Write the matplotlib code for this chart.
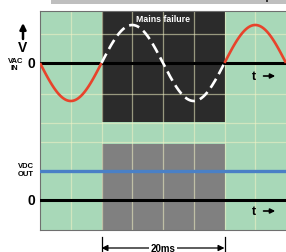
"""
UPS hold-up diagram: AC input with a 20 ms mains failure, DC output unaffected.
"""
import numpy as np
import matplotlib
matplotlib.use("Agg")
import matplotlib.pyplot as plt
import matplotlib.transforms as mtransforms
from matplotlib.patches import FancyArrowPatch, Rectangle

plt.rcParams["font.family"] = ["Liberation Sans", "DejaVu Sans"]

W_PX, H_PX = 286, 253

# x axis in ms, y axis in px above bottom of the plot box
T_END = 40.0
Y_TOP = 219
AC_ZERO = 167
AC_PEAK = 38
AC_FREQ_HZ = 50
DC_ZERO = 30
DC_LEVEL = 59

FAIL_START, FAIL_END = 10, 30           # mains failure window, ms
GRID_X = [5, 10, 15, 20, 25, 30, 35]
GRID_Y = [196, 136, 107, 88, 59]
DARK_BOTTOM = 108
GRAY_TOP = 86

GREEN = "#a8d8b8"
GRID = "#f3f3c6"
DARK = "#2b2b2b"
GREY = "#808080"
RED = "#e8432b"
BLUE = "#4a80c6"


def ac(t_ms):
    return AC_ZERO - AC_PEAK * np.sin(2 * np.pi * AC_FREQ_HZ * t_ms / 1000)


fig = plt.figure(figsize=(W_PX / 100, H_PX / 100), dpi=100)
fig.patch.set_facecolor("white")
ax = fig.add_axes([40 / W_PX, 22 / H_PX, 246 / W_PX, 219 / H_PX])
ax.set_xlim(0, T_END)
ax.set_ylim(0, Y_TOP)
ax.set_facecolor(GREEN)
ax.set_xticks([])
ax.set_yticks([])
for s in ["left", "bottom", "top"]:
    ax.spines[s].set_color("#6f6f6f")
    ax.spines[s].set_linewidth(0.8)
ax.spines["right"].set_visible(False)

# failure blocks
ax.axvspan(FAIL_START, FAIL_END, ymin=DARK_BOTTOM / Y_TOP, ymax=1, color=DARK, lw=0, zorder=1)
ax.axvspan(FAIL_START, FAIL_END, ymin=0, ymax=GRAY_TOP / Y_TOP, color=GREY, lw=0, zorder=1)

# grid
for gx in GRID_X:
    ax.axvline(gx, color=GRID, lw=0.9, alpha=0.55, zorder=2)
for gy in GRID_Y:
    ax.axhline(gy, color=GRID, lw=0.9, alpha=0.55, zorder=2)

# zero lines and DC output
ax.axhline(AC_ZERO, color="black", lw=2.2, zorder=3)
ax.axhline(DC_ZERO, color="black", lw=2.2, zorder=3)
ax.axhline(DC_LEVEL, color=BLUE, lw=2.4, zorder=3)

# AC waveform
t1 = np.linspace(0, FAIL_START, 100)
t2 = np.linspace(FAIL_START, FAIL_END, 200)
t3 = np.linspace(FAIL_END, T_END, 100)
ax.plot(t1, ac(t1), color=RED, lw=1.9, zorder=4, solid_capstyle="butt")
ax.plot(t3, ac(t3), color=RED, lw=1.9, zorder=4, solid_capstyle="butt")
ax.plot(t2, ac(t2), color="white", lw=1.9, ls=(0, (4, 2)), zorder=4)

ax.text((FAIL_START + FAIL_END) / 2, Y_TOP - 8, "Mains failure", color="white",
        fontsize=6.3, fontweight="bold", ha="center", va="center", zorder=5)

# t arrows
for ty in (AC_ZERO - 13, DC_ZERO - 11):
    ax.text(34.8, ty, "t", fontsize=9, fontweight="bold", ha="center", va="center", zorder=5)
    ax.annotate("", xy=(38.7, ty), xytext=(35.9, ty),
                arrowprops=dict(arrowstyle="-|>", color="black", lw=1.2,
                                mutation_scale=7), zorder=5)


def fx(px):
    return px / W_PX


def fy(py):
    return 1 - py / H_PX


# left labels
fig.text(fx(31), fy(64), "0", fontsize=10, fontweight="bold", ha="center", va="center")
fig.text(fx(23), fy(48.5), "V", fontsize=10, fontweight="bold", ha="center", va="center")
fig.text(fx(15.5), fy(61.5), "VAC", fontsize=5.5, fontweight="bold", ha="center", va="center")
fig.text(fx(14.5), fy(68.5), "IN", fontsize=5.5, fontweight="bold", ha="center", va="center")
fig.add_artist(FancyArrowPatch(
    (fx(23), fy(40)), (fx(23), fy(24)), transform=fig.transFigure,
    arrowstyle="-|>", mutation_scale=9, lw=1.8, color="black",
    shrinkA=0, shrinkB=0))

fig.text(fx(26), fy(166.5), "VDC", fontsize=5.5, fontweight="bold", ha="center", va="center")
fig.text(fx(26), fy(174.5), "OUT", fontsize=5.5, fontweight="bold", ha="center", va="center")
fig.text(fx(31.5), fy(201), "0", fontsize=10, fontweight="bold", ha="center", va="center")

# 20 ms dimension
trans = mtransforms.blended_transform_factory(ax.transData, fig.transFigure)
for xv in (FAIL_START, FAIL_END):
    ax.plot([xv, xv], [fy(238), fy(253)], color="black", lw=0.9, transform=trans, clip_on=False)
mid = (FAIL_START + FAIL_END) / 2
for xv in (FAIL_START, FAIL_END):
    ax.annotate("", xy=(xv, fy(249)), xytext=(mid, fy(249)), xycoords=trans, textcoords=trans,
                arrowprops=dict(arrowstyle="-|>", color="black", lw=0.9,
                                mutation_scale=9, shrinkA=0, shrinkB=0),
                annotation_clip=False)
ax.text(mid, fy(249), "20ms", transform=trans, fontsize=7, fontweight="bold",
        ha="center", va="center", zorder=6,
        bbox=dict(facecolor="white", edgecolor="none", pad=1.2), clip_on=False)

# gray strip at the very top
fig.add_artist(Rectangle((fx(51), fy(4.5)), 1 - fx(51), 4.5 / H_PX,
                         transform=fig.transFigure, facecolor="#bfbfbf", edgecolor="none"))
fig.add_artist(Rectangle((fx(266), fy(3)), 2 / W_PX, 3 / H_PX,
                         transform=fig.transFigure, facecolor="#333333", edgecolor="none"))

fig.savefig("out.png", dpi=100, facecolor="white")
